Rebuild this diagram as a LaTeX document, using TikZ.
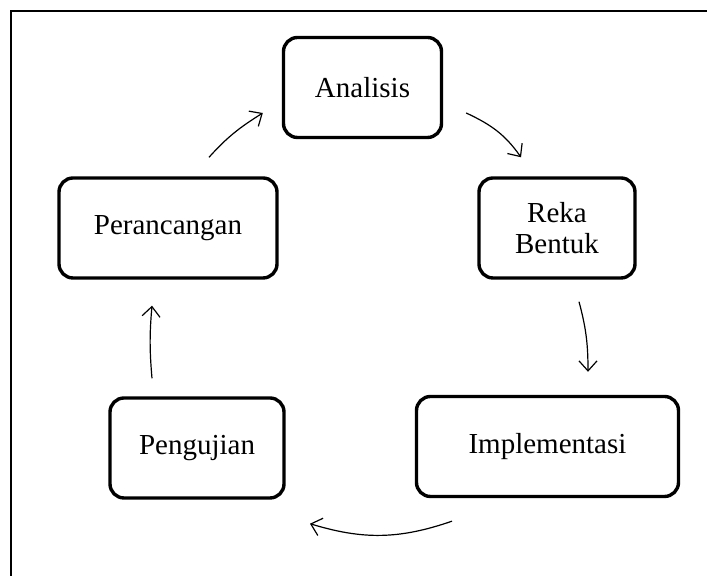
\documentclass[tikz,border=0pt]{standalone}
\usepackage{fontspec}
\setmainfont{Liberation Serif}
\usetikzlibrary{arrows.meta}

\begin{document}
\begin{tikzpicture}[x=0.5pt,y=0.5pt]
        \useasboundingbox (0,0) rectangle (707,576);
        \draw[line width=0.8pt] (11,0) -- (11,565) -- (707,565);
        \begin{scope}[every node/.style={draw=black,line width=1.7pt,rounded corners=7pt,align=center,inner sep=0pt,minimum height=50pt,font=\fontsize{14.5}{15.5}\selectfont}]
            \node[minimum width=79pt] (1) at (362.5,488.5) {Analisis};
            \node[minimum width=109pt] (2) at (168,348) {Perancangan};
            \node[minimum width=78pt] (3) at (557,348) {Reka\\Bentuk};
            \node[minimum width=131pt] (4) at (547.5,129.5) {Implementasi};
            \node[minimum width=87pt] (5) at (197,128) {Pengujian};
        \end{scope}
        \begin{scope}[every edge/.style={draw,line width=0.6pt,-{Straight Barb[length=5pt,width=9pt]}}]
            \path ([xshift=20.5pt,yshift=9.5pt]2.north) edge[out=48,in=212] ([xshift=-9.5pt,yshift=-12.75pt]1.west);
            \path ([xshift=11.5pt,yshift=-12.75pt]1.east) edge[out=335,in=125] ([xshift=-18pt,yshift=9.5pt]3.north);
            \path ([xshift=11pt,yshift=-11pt]3.south) edge[out=285,in=90] ([xshift=20.25pt,yshift=11.5pt]4.north);
            \path ([xshift=-47.75pt,yshift=-11.5pt]4.south) edge[out=199,in=343] ([xshift=56.5pt,yshift=-12pt]5.south);
            \path ([xshift=-22.5pt,yshift=9pt]5.north) edge[out=95,in=265] ([xshift=-8pt,yshift=-13pt]2.south);
        \end{scope}
\end{tikzpicture}
\end{document}
